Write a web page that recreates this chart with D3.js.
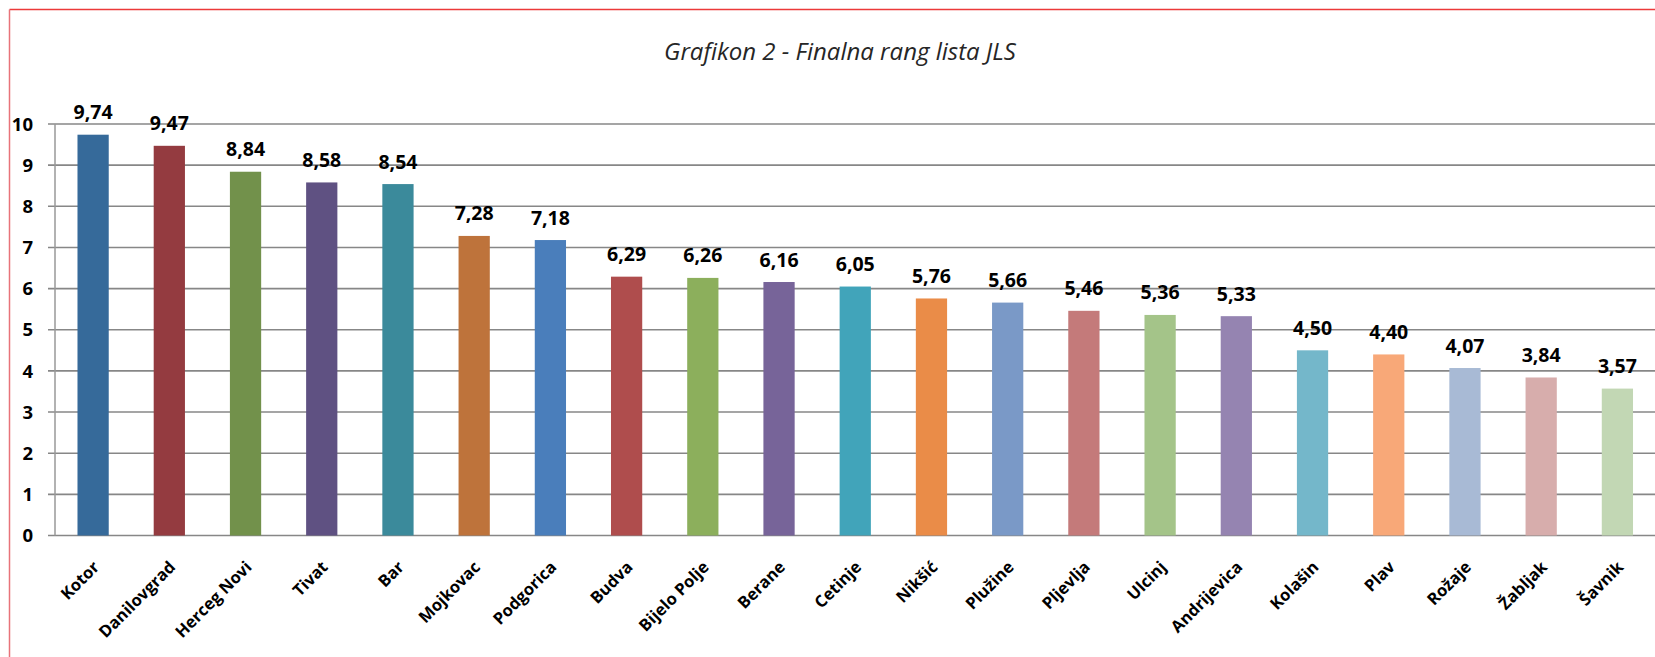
<!DOCTYPE html>
<html>
<head>
<meta charset="utf-8">
<script src="https://cdn.jsdelivr.net/npm/d3@7"></script>
<style>
  html, body { margin: 0; padding: 0; background: #fff; }
  svg { display: block; }
</style>
</head>
<body>
<svg id="chart" width="1655" height="657"></svg>
<script>
const categories = ["Kotor","Danilovgrad","Herceg Novi","Tivat","Bar","Mojkovac","Podgorica","Budva","Bijelo Polje","Berane","Cetinje","Nikšić","Plužine","Pljevlja","Ulcinj","Andrijevica","Kolašin","Plav","Rožaje","Žabljak","Šavnik"];
const values = [9.74,9.47,8.84,8.58,8.54,7.28,7.18,6.29,6.26,6.16,6.05,5.76,5.66,5.46,5.36,5.33,4.50,4.40,4.07,3.84,3.57];
const barColors = ["#366a9a","#943b40","#72914b","#5f5182","#3b8a9b","#be733b","#4a7ebb","#af4d4d","#8caf5c","#776499","#41a4ba","#ea8c48","#7a99c7","#c47a7a","#a4c489","#9584b1","#74b7ca","#f8a878","#a8bad5","#d7adac","#c2d7b4"];
const yTicks = [0,1,2,3,4,5,6,7,8,9,10];
const title = "Grafikon 2 - Finalna rang lista JLS";

(function () {
const svg = d3.select("#chart");
const W = 1655, H = 657;
const pLeft = 55, pRight = 1655.5, pTop = 124, pBottom = 535.5;

const x = d3.scaleBand().domain(categories).range([pLeft, pRight]).paddingInner(0.59).paddingOuter(0.295);
const y = d3.scaleLinear().domain([0, 10]).range([pBottom, pTop]);

const font = "'Open Sans', 'DejaVu Sans', sans-serif";

// border (red, top & left)
svg.append("line").attr("x1", 9.5).attr("x2", W).attr("y1", 9.5).attr("y2", 9.5)
  .attr("stroke", "#ec3a3a").attr("stroke-width", 1.5);
svg.append("line").attr("x1", 9.5).attr("x2", 9.5).attr("y1", 9.5).attr("y2", H)
  .attr("stroke", "#e8737a").attr("stroke-width", 1.5);

// title
svg.append("text").attr("x", 840).attr("y", 60).attr("text-anchor", "middle")
  .attr("font-family", font).attr("font-style", "italic").attr("font-size", 24)
  .attr("fill", "#262626").text(title);

// gridlines
svg.append("g").selectAll("line").data(yTicks).join("line")
  .attr("x1", 48).attr("x2", W).attr("y1", d => y(d)).attr("y2", d => y(d))
  .attr("stroke", "#878787").attr("stroke-width", 1.6);

// y axis line
svg.append("line").attr("x1", pLeft).attr("x2", pLeft).attr("y1", pTop).attr("y2", pBottom)
  .attr("stroke", "#999").attr("stroke-width", 1.5);

// y tick labels
svg.append("g").selectAll("text").data(yTicks).join("text")
  .attr("x", 33).attr("y", d => y(d)).attr("dy", "0.36em").attr("text-anchor", "end")
  .attr("font-family", font).attr("font-weight", "bold").attr("font-size", 18.5)
  .attr("fill", "#000").text(d => d);

// bars
svg.append("g").selectAll("rect").data(categories).join("rect")
  .attr("x", d => x(d)).attr("width", x.bandwidth())
  .attr("y", (d, i) => y(values[i])).attr("height", (d, i) => y(0) - y(values[i]))
  .attr("fill", (d, i) => barColors[i]);

// value labels
svg.append("g").selectAll("text").data(categories).join("text")
  .attr("x", d => x(d) + x.bandwidth() / 2).attr("y", (d, i) => y(values[i]) - 15.5)
  .attr("text-anchor", "middle")
  .attr("font-family", font).attr("font-weight", "bold").attr("font-size", 19.5)
  .attr("fill", "#000").text((d, i) => values[i].toFixed(2).replace(".", ","));

// x labels
svg.append("g").selectAll("text").data(categories).join("text")
  .attr("transform", d => `translate(${x(d) + x.bandwidth() / 2 - 1},${560}) rotate(-45)`)
  .attr("text-anchor", "end").attr("dy", "0.7em")
  .attr("font-family", font).attr("font-weight", "bold").attr("font-size", 16.5)
  .attr("fill", "#000").text(d => d);
})();
</script>
</body>
</html>
